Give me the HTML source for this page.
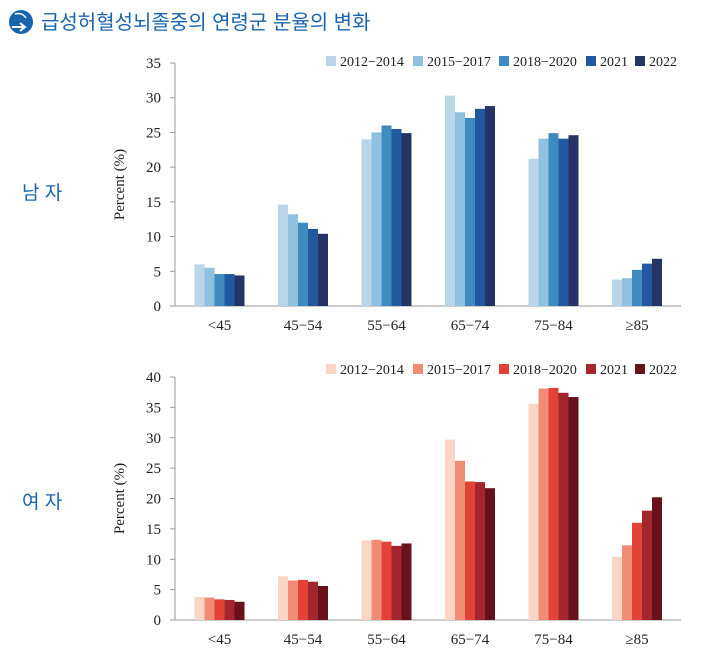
<!DOCTYPE html>
<html><head><meta charset="utf-8"><style>
body{margin:0;background:#fff;width:712px;height:648px;overflow:hidden}
svg text{font-family:"Liberation Serif",serif;fill:#222}
</style></head><body>
<svg width="712" height="648" viewBox="0 0 712 648" xmlns="http://www.w3.org/2000/svg" id="s">
<circle cx="21" cy="22" r="12" fill="#1a64ad"/>
<path d="M12 27 L24 27 M20 23 L25 27 L20 31" stroke="#fff" stroke-width="2" fill="none"/>
<path d="M15 14 Q22 12 26 18" stroke="#fff" stroke-width="1.5" fill="none"/>
<text x="41" y="29" style="font-family:'Liberation Sans','Noto Sans CJK KR',sans-serif;font-size:20px;fill:#1a64ad">급성허혈성뇌졸중의 연령군 분율의 변화</text>
<text x="22" y="199" style="font-family:'Liberation Sans','Noto Sans CJK KR',sans-serif;font-size:19px;fill:#1a64ad">남 자</text>
<text x="22" y="508" style="font-family:'Liberation Sans','Noto Sans CJK KR',sans-serif;font-size:19px;fill:#1a64ad">여 자</text>
<g id="g"></g>
</svg>
<script>
const g=document.getElementById('g');let h='';
const cats=['<45','45-54','55-64','65-74','75-84','≥85'];
function chart(y0,y1,max,step,data,cols){
 const ppu=(y0-y1)/max;
 h+=`<text transform="translate(124,${(y0+y1)/2}) rotate(-90)" text-anchor="middle" font-size="15">Percent (%)</text>`;
 for(let v=0;v<=max;v+=step){const y=y0-v*ppu;h+=`<line x1="170" x2="175" y1="${y}" y2="${y}" stroke="#999"/><text x="161" y="${y+5}" text-anchor="end" font-size="15">${v}</text>`;}
 h+=`<line x1="175" x2="175" y1="${y1}" y2="${y0}" stroke="#999"/><line x1="170" x2="681" y1="${y0}" y2="${y0}" stroke="#999"/>`;
 data.forEach((d,i)=>{const c=219.5+i*83.5;d.forEach((v,j)=>{const x=c-25+j*10;h+=`<rect x="${x}" y="${y0-v*ppu}" width="10" height="${v*ppu}" fill="${cols[j]}"/>`;});
  h+=`<text x="${c}" y="${y0+24}" text-anchor="middle" font-size="15">${cats[i].replace('<','&lt;').replace(/-/g,'−')}</text>`;});
 const lx=[326,413,499,586,635],lt=['2012−2014','2015−2017','2018−2020','2021','2022'];
 lx.forEach((x,j)=>{h+=`<rect x="${x}" y="LY" width="10" height="10" fill="${cols[j]}"/><text x="${x+14}" y="LT" font-size="14">${lt[j]}</text>`;});
}
chart(306,63,35,5,[[6.0,5.5,4.6,4.6,4.4],[14.6,13.2,12.0,11.1,10.4],[24.0,25.0,26.0,25.5,24.9],[30.3,27.9,27.1,28.4,28.8],[21.2,24.1,24.9,24.1,24.6],[3.8,4.0,5.2,6.1,6.8]],['#b9d5ea','#8fc0dd','#3f8abf','#22589f','#253465']);
h=h.replace(/"LY"/g,'"56"').replace(/"LT"/g,'"66"');
chart(620,377,40,5,[[3.8,3.7,3.4,3.3,3.0],[7.2,6.5,6.6,6.3,5.6],[13.1,13.2,12.9,12.2,12.6],[29.7,26.2,22.8,22.7,21.7],[35.6,38.1,38.2,37.4,36.7],[10.4,12.3,16.0,18.0,20.2]],['#fbd5c5','#f08c74','#e34236','#a3262e','#67121a']);
h=h.replace(/"LY"/g,'"364"').replace(/"LT"/g,'"374"');
g.innerHTML=h;
</script>
</body></html>
